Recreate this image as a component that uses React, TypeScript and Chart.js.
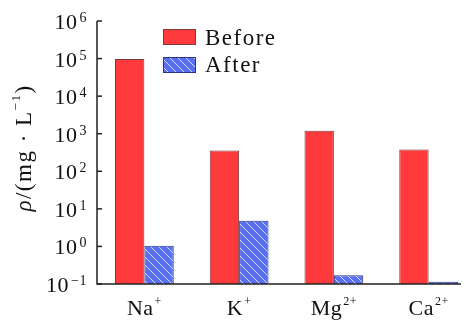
import React, { useEffect, useRef } from "react";
import { Chart, registerables } from "chart.js";
Chart.register(...registerables);

const categories = ["Na", "K", "Mg", "Ca"];
const categoryCharges = ["+", "+", "2+", "2+"];
const beforeValues = [98000, 360, 1200, 380];
const afterValues = [1.05, 4.8, 0.17, 0.115];
const tickExponents = [-1, 0, 1, 2, 3, 4, 5, 6];
const seriesLabels = ["Before", "After"];

const RED = "#ff3a3c";
const RED_BORDER = "#7d3b3b";
const BLUE = "#5a6ff0";
const BLUE_BORDER = "#2b3484";
const FONT = "'Liberation Serif', 'Times New Roman', serif";
const AXIS = "#222222";

function makeHatch(ctx: CanvasRenderingContext2D): CanvasPattern | string {
  const c = document.createElement("canvas");
  const s = 8;
  c.width = s;
  c.height = s;
  const g = c.getContext("2d");
  if (!g) return BLUE;
  g.fillStyle = BLUE;
  g.fillRect(0, 0, s, s);
  g.strokeStyle = "rgba(215,225,255,0.95)";
  g.lineWidth = 1;
  g.beginPath();
  g.moveTo(-1, -1);
  g.lineTo(s + 1, s + 1);
  g.moveTo(-1, s - 1);
  g.lineTo(1, s + 1);
  g.moveTo(s - 1, -1);
  g.lineTo(s + 1, 1);
  g.stroke();
  return ctx.createPattern(c, "repeat") || BLUE;
}

type Part = { t: string; font: string; dy: number; gap?: number };

function drawParts(
  ctx: CanvasRenderingContext2D,
  parts: Part[],
  x: number,
  y: number,
  align: "left" | "center" | "right",
  spacing = 0
) {
  (ctx as any).letterSpacing = spacing + "px";
  let total = 0;
  const widths = parts.map((p) => {
    ctx.font = p.font;
    const w = ctx.measureText(p.t).width + (p.gap || 0);
    total += w;
    return w;
  });
  let cx = align === "left" ? x : align === "center" ? x - total / 2 : x - total;
  parts.forEach((p, i) => {
    ctx.font = p.font;
    ctx.fillText(p.t, cx + (p.gap || 0), y + p.dy);
    cx += widths[i];
  });
  (ctx as any).letterSpacing = "0px";
}

const customPlugin = {
  id: "customDraw",
  afterDatasetsDraw(chart: any) {
    const ctx: CanvasRenderingContext2D = chart.ctx;
    const area = chart.chartArea;
    const yScale = chart.scales.y;
    const xScale = chart.scales.x;
    ctx.save();
    ctx.fillStyle = "#111";
    ctx.strokeStyle = AXIS;
    ctx.textBaseline = "alphabetic";
    ctx.textAlign = "left";

    // axes lines
    ctx.lineWidth = 1.5;
    ctx.beginPath();
    ctx.moveTo(area.left, area.top);
    ctx.lineTo(area.left, area.bottom);
    ctx.lineTo(chart.width, area.bottom);
    ctx.stroke();

    // y ticks (inward) and labels
    tickExponents.forEach((e) => {
      const y = yScale.getPixelForValue(Math.pow(10, e));
      ctx.lineWidth = 1.5;
      ctx.beginPath();
      ctx.moveTo(area.left, y);
      ctx.lineTo(area.left + 5, y);
      ctx.stroke();
      const sup = e < 0 ? "\u2212" + Math.abs(e) : String(e);
      drawParts(
        ctx,
        [
          { t: "10", font: `22px ${FONT}`, dy: 8 },
          { t: sup, font: `14px ${FONT}`, dy: 1, gap: 2 },
        ],
        area.left - 10,
        y,
        "right",
        0.5
      );
    });

    // x labels
    categories.forEach((c, i) => {
      const x = xScale.getPixelForValue(i);
      drawParts(
        ctx,
        [
          { t: c, font: `22px ${FONT}`, dy: 0 },
          { t: categoryCharges[i], font: `12px ${FONT}`, dy: -10, gap: 1 },
        ],
        x,
        307,
        "center",
        0.5
      );
    });

    // y title
    ctx.save();
    ctx.translate(17, 140);
    ctx.rotate(-Math.PI / 2);
    ctx.textBaseline = "middle";
    drawParts(
      ctx,
      [
        { t: "\u03c1", font: `italic 23px ${FONT}`, dy: 0 },
        { t: "/(mg \u00b7 L", font: `23px ${FONT}`, dy: 0 },
        { t: "\u22121", font: `13px ${FONT}`, dy: -8 },
        { t: ")", font: `23px ${FONT}`, dy: 0 },
      ],
      0,
      0,
      "center",
      1.5
    );
    ctx.restore();

    // legend
    const legendX = 155;
    const items = [
      { label: seriesLabels[0], fill: RED, border: RED_BORDER, y: 21, base: 37 },
      { label: seriesLabels[1], fill: makeHatch(ctx), border: BLUE_BORDER, y: 49, base: 64 },
    ];
    items.forEach((it) => {
      ctx.fillStyle = it.fill as any;
      ctx.fillRect(legendX, it.y, 33, 16);
      ctx.strokeStyle = it.border;
      ctx.lineWidth = 1;
      ctx.strokeRect(legendX + 0.5, it.y + 0.5, 32, 15);
      ctx.fillStyle = "#111";
      ctx.textBaseline = "alphabetic";
      drawParts(ctx, [{ t: it.label, font: `23px ${FONT}`, dy: 0 }], legendX + 42, it.base, "left", 1.5);
    });

    ctx.restore();
  },
};

export default function App() {
  const ref = useRef<HTMLCanvasElement | null>(null);
  useEffect(() => {
    const canvas = ref.current;
    if (!canvas) return;
    const ctx = canvas.getContext("2d");
    if (!ctx) return;
    const chart = new Chart(canvas, {
      type: "bar",
      data: {
        labels: categories,
        datasets: [
          {
            label: seriesLabels[0],
            data: beforeValues,
            backgroundColor: RED,
            borderColor: RED_BORDER,
            borderWidth: 1,
          },
          {
            label: seriesLabels[1],
            data: afterValues,
            backgroundColor: makeHatch(ctx) as any,
            borderColor: BLUE_BORDER,
            borderWidth: 1,
          },
        ],
      },
      options: {
        responsive: false,
        animation: false,
        layout: { padding: { left: 89, top: 13, bottom: 37, right: 2 } },
        datasets: { bar: { categoryPercentage: 0.62, barPercentage: 1 } },
        plugins: { legend: { display: false }, tooltip: { enabled: false } },
        scales: {
          x: { type: "category", display: false, offset: true },
          y: { type: "logarithmic", display: false, min: 0.1, max: 1e6 },
        },
      },
      plugins: [customPlugin],
    });
    return () => chart.destroy();
  }, []);
  return (
    <div style={{ width: 461, height: 313, overflow: "hidden" }}>
      <canvas ref={ref} width={470} height={313} style={{ display: "block", width: 470, height: 313 }} />
    </div>
  );
}
